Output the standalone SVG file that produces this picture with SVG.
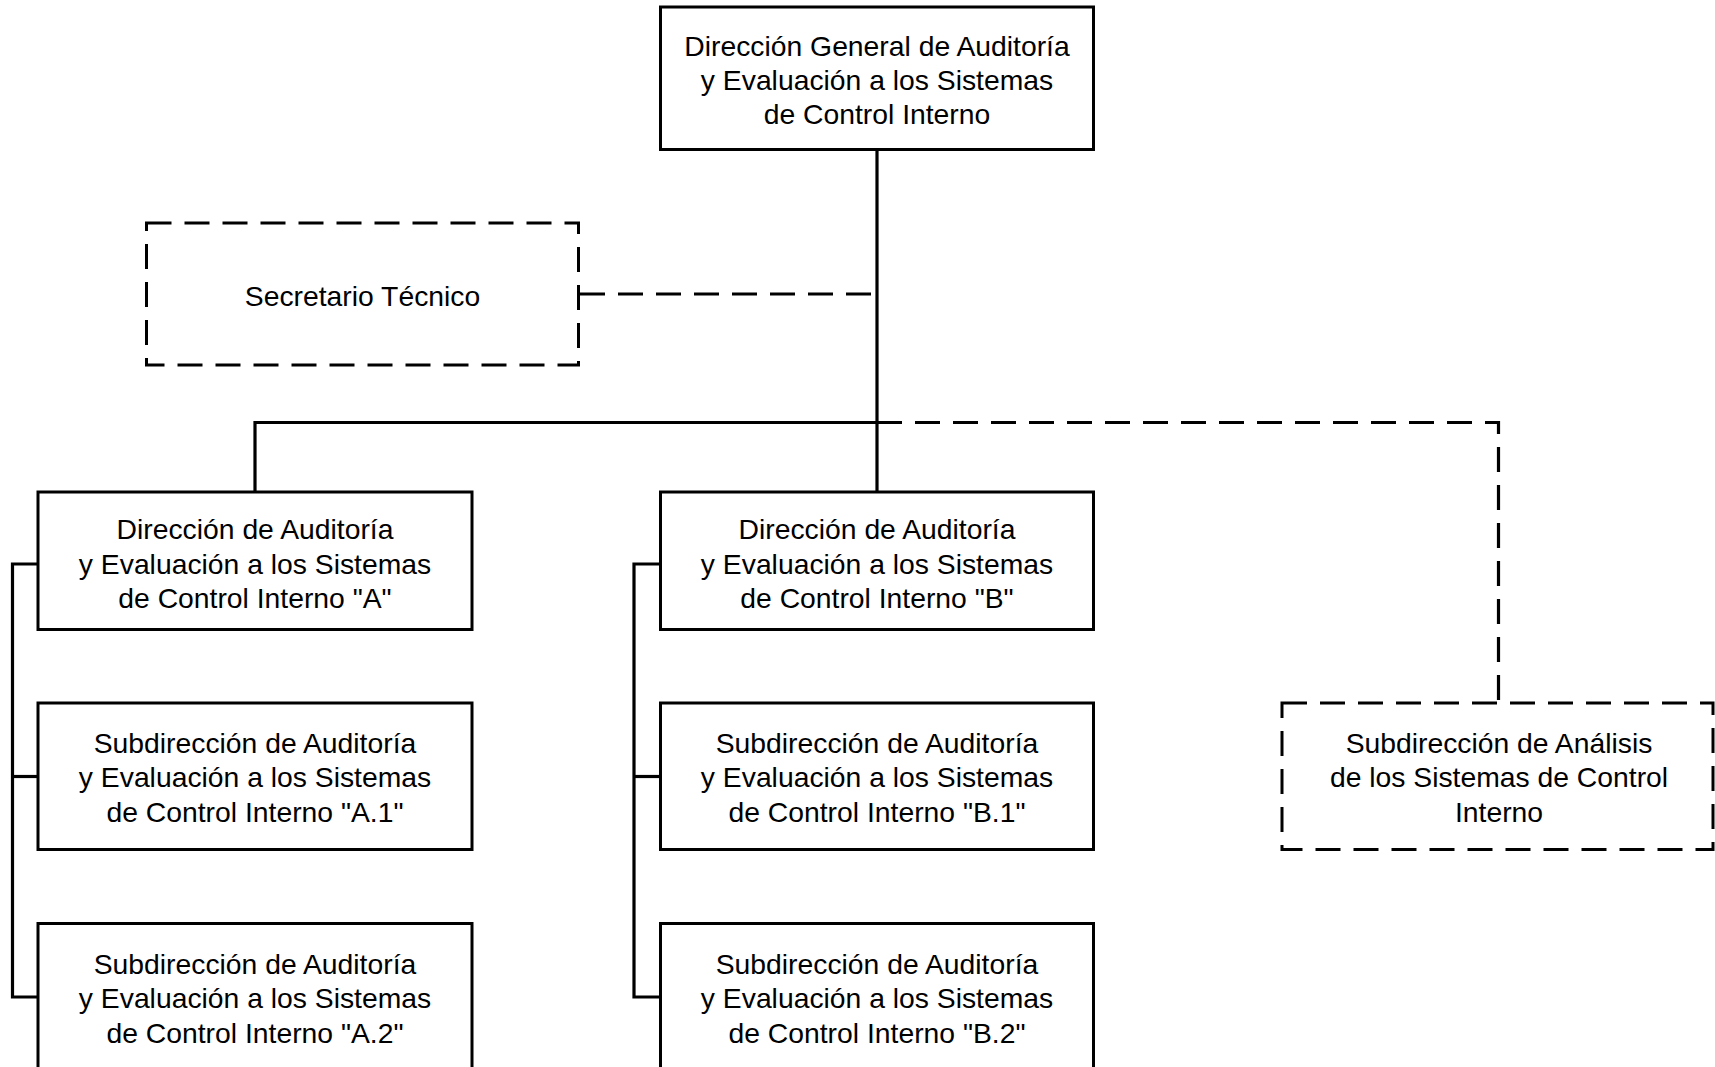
<svg xmlns="http://www.w3.org/2000/svg" width="1715" height="1067" viewBox="0 0 1715 1067">
<style>
.box{fill:#fff;stroke:#000;stroke-width:3}
.dbox{fill:#fff;stroke:#000;stroke-width:3;stroke-dasharray:25 13}
.ln{fill:none;stroke:#000;stroke-width:3.2}
.dl{fill:none;stroke:#000;stroke-width:3.2;stroke-dasharray:25 13}
text{font-family:"Liberation Sans",Arial,sans-serif;font-size:28.3px;fill:#000;text-anchor:middle}
</style>
<rect width="1715" height="1067" fill="#fff"/>
<g id="connectors">
<line class="ln" x1="877" y1="149" x2="877" y2="492"/>
<line class="dl" x1="580" y1="294" x2="877" y2="294"/>
<polyline class="ln" points="255,492 255,422.5 877,422.5"/>
<polyline class="dl" points="877,422.5 1498.5,422.5 1498.5,703"/>
<polyline class="ln" points="38,564 12.5,564 12.5,997 38,997"/>
<line class="ln" x1="12.5" y1="776.5" x2="38" y2="776.5"/>
<polyline class="ln" points="660.5,564 634,564 634,997 660.5,997"/>
<line class="ln" x1="634" y1="776.5" x2="660.5" y2="776.5"/>
</g>
<g id="n-dg">
<rect class="box" x="660.5" y="7" width="433" height="142.5"/>
<text x="877" y="56">Dirección General de Auditoría</text>
<text x="877" y="90">y Evaluación a los Sistemas</text>
<text x="877" y="124">de Control Interno</text>
</g>
<g id="n-st">
<rect class="dbox" x="146.5" y="223" width="432" height="142"/>
<text x="362.5" y="306">Secretario Técnico</text>
</g>
<g id="n-a">
<rect class="box" x="38" y="492" width="434" height="137.5"/>
<text x="255" y="539">Dirección de Auditoría</text>
<text x="255" y="573.5">y Evaluación a los Sistemas</text>
<text x="255" y="608">de Control Interno "A"</text>
</g>
<g id="n-b">
<rect class="box" x="660.5" y="492" width="433" height="137.5"/>
<text x="877" y="539">Dirección de Auditoría</text>
<text x="877" y="573.5">y Evaluación a los Sistemas</text>
<text x="877" y="608">de Control Interno "B"</text>
</g>
<g id="n-a1">
<rect class="box" x="38" y="703" width="434" height="146.5"/>
<text x="255" y="752.5">Subdirección de Auditoría</text>
<text x="255" y="787">y Evaluación a los Sistemas</text>
<text x="255" y="821.5">de Control Interno "A.1"</text>
</g>
<g id="n-b1">
<rect class="box" x="660.5" y="703" width="433" height="146.5"/>
<text x="877" y="752.5">Subdirección de Auditoría</text>
<text x="877" y="787">y Evaluación a los Sistemas</text>
<text x="877" y="821.5">de Control Interno "B.1"</text>
</g>
<g id="n-a2">
<rect class="box" x="38" y="923.5" width="434" height="150"/>
<text x="255" y="973.5">Subdirección de Auditoría</text>
<text x="255" y="1008">y Evaluación a los Sistemas</text>
<text x="255" y="1042.5">de Control Interno "A.2"</text>
</g>
<g id="n-b2">
<rect class="box" x="660.5" y="923.5" width="433" height="150"/>
<text x="877" y="973.5">Subdirección de Auditoría</text>
<text x="877" y="1008">y Evaluación a los Sistemas</text>
<text x="877" y="1042.5">de Control Interno "B.2"</text>
</g>
<g id="n-an">
<rect class="dbox" x="1282" y="703" width="431" height="146.5"/>
<text x="1499" y="752.5">Subdirección de Análisis</text>
<text x="1499" y="787">de los Sistemas de Control</text>
<text x="1499" y="821.5">Interno</text>
</g>
</svg>
